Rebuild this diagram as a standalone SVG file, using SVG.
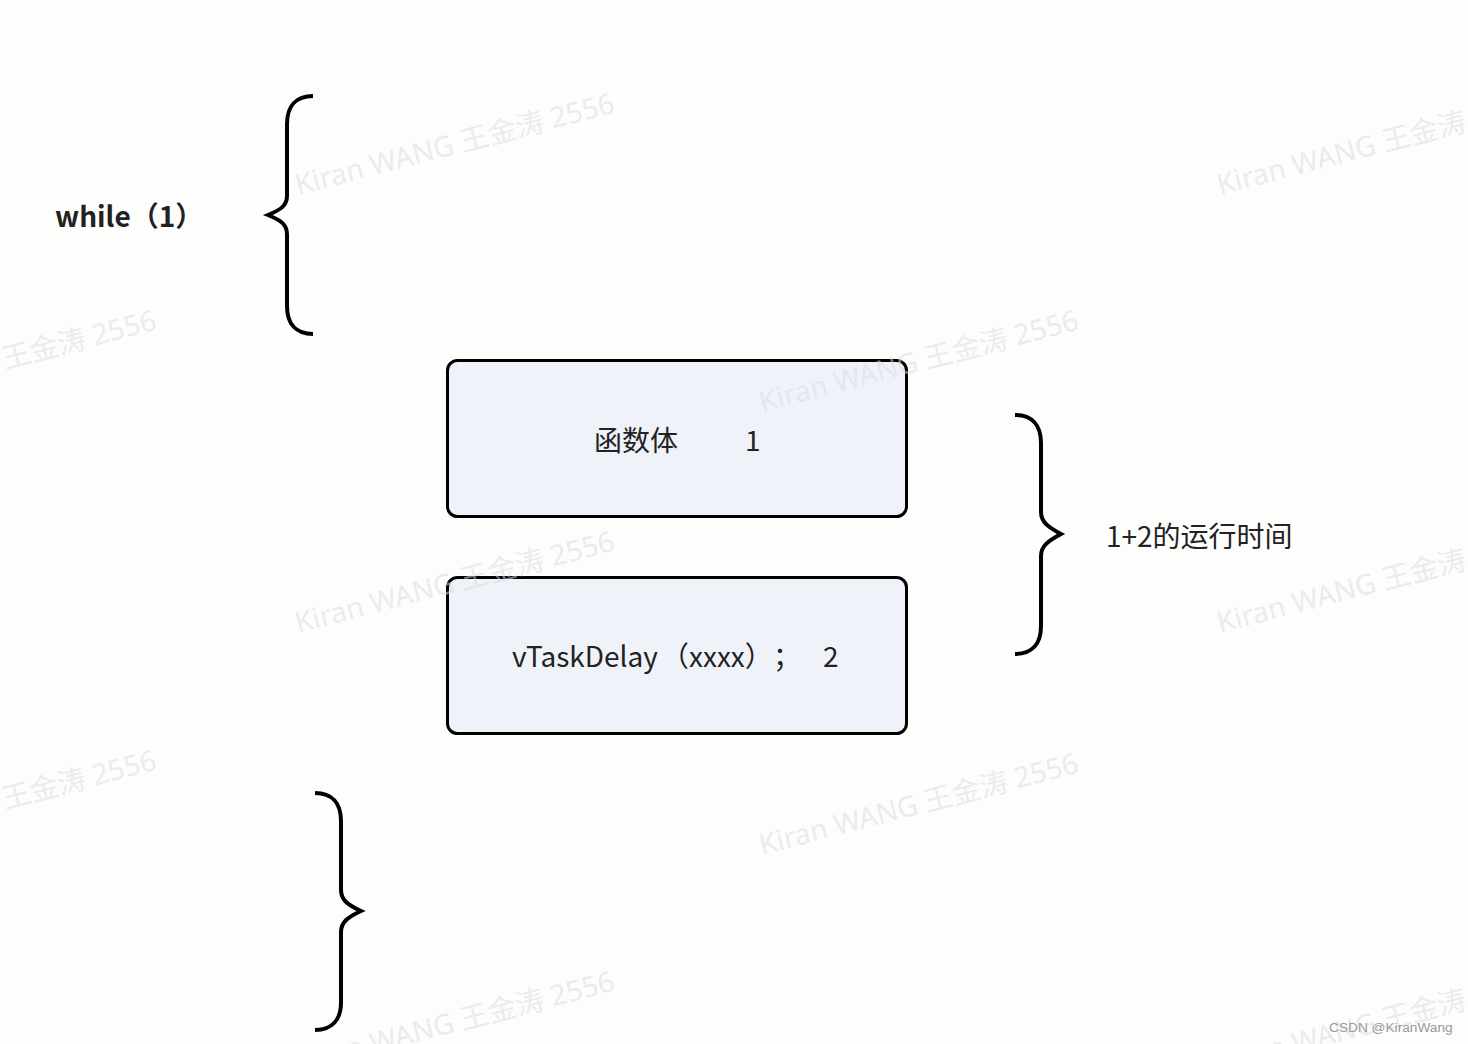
<svg xmlns="http://www.w3.org/2000/svg" width="1468" height="1044" viewBox="0 0 1468 1044">
<style>
.wm{font-family:"Noto Sans","Noto Sans CJK SC",sans-serif;font-size:28.5px;fill:#dcdce2;fill-opacity:0.55}
.brace{fill:none;stroke:#000;stroke-width:4;stroke-linecap:butt;stroke-linejoin:miter}
.box{fill:#eff2f9;stroke:#000;stroke-width:3}
.lbl{font-family:"Noto Sans CJK SC","Noto Sans",sans-serif;font-size:28px;fill:#222}
.bold{font-weight:bold}
</style>
<rect width="1468" height="1044" fill="#fdfdfc"/>
<g id="while-label">
<text class="lbl bold" x="55" y="227">while（1）</text>
</g>
<g id="connectors">
<path class="brace" d="M313,96 C296,96 287,106 287,124 L287,196 C287,206 280,210 268,215 C280,220 287,224 287,234 L287,306 C287,324 296,334 313,334"/>
<path class="brace" d="M1015,415 C1032,415 1041,425 1041,443 L1041,512 C1041,522 1048,527 1061,534 C1048,541 1041,546 1041,556 L1041,626 C1041,644 1032,654 1015,654"/>
<path class="brace" d="M315,793 C332,793 341,803 341,821 L341,890 C341,900 348,905 361,911 C348,917 341,922 341,932 L341,1002 C341,1020 332,1030 315,1030"/>
</g>
<g id="node-1">
<rect class="box" x="447.5" y="360.5" width="459" height="156" rx="10"/>
<text class="lbl" x="594" y="451">函数体</text>
<text class="lbl" x="745" y="451">1</text>
</g>
<g id="node-2">
<rect class="box" x="447.5" y="577.5" width="459" height="156" rx="10"/>
<text class="lbl" x="512" y="667">vTaskDelay</text>
<text class="lbl" x="661" y="667">（xxxx）</text>
<text class="lbl" x="773" y="667">；</text>
<text class="lbl" x="823" y="667">2</text>
</g>
<g id="time-label">
<text class="lbl" x="1106" y="547">1+2的运行时间</text>
</g>
<g id="watermarks">
<text class="wm" transform="translate(298,195) rotate(-14.6)">Kiran WANG 王金涛 2556</text>
<text class="wm" transform="translate(1220,195) rotate(-14.6)">Kiran WANG 王金涛 2556</text>
<text class="wm" transform="translate(-160,412) rotate(-14.6)">Kiran WANG 王金涛 2556</text>
<text class="wm" transform="translate(762,412) rotate(-14.6)">Kiran WANG 王金涛 2556</text>
<text class="wm" transform="translate(298,633) rotate(-14.6)">Kiran WANG 王金涛 2556</text>
<text class="wm" transform="translate(1220,633) rotate(-14.6)">Kiran WANG 王金涛 2556</text>
<text class="wm" transform="translate(-160,852) rotate(-14.6)">Kiran WANG 王金涛 2556</text>
<text class="wm" transform="translate(762,855) rotate(-14.6)">Kiran WANG 王金涛 2556</text>
<text class="wm" transform="translate(298,1073) rotate(-14.6)">Kiran WANG 王金涛 2556</text>
<text class="wm" transform="translate(1220,1073) rotate(-14.6)">Kiran WANG 王金涛 2556</text>
</g>
<text x="1329" y="1032" font-family="Liberation Sans, Arial, sans-serif" font-size="13.7" fill="#999">CSDN @KiranWang</text>
</svg>
